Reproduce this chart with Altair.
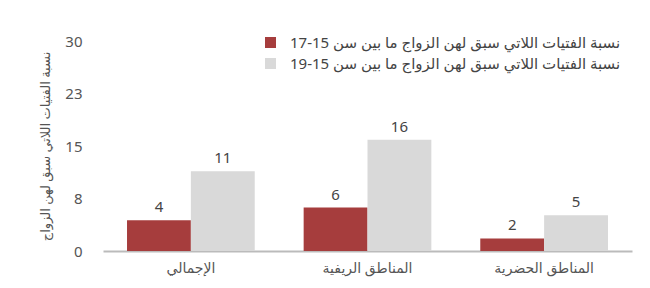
import altair as alt
import pandas as pd

categories = ["الإجمالي", "المناطق الريفية", "المناطق الحضرية"]
series = [
    "نسبة الفتيات اللاتي سبق لهن الزواج ما بين سن 15-17",
    "نسبة الفتيات اللاتي سبق لهن الزواج ما بين سن 15-19",
]
values_15_17 = [4.4, 6.2, 1.8]
values_15_19 = [11.4, 15.9, 5.1]
y_ticks = [0, 7.5, 15, 22.5, 30]
y_title = "نسبة الفتيات اللاتي سبق لهن الزواج"
colors = ["#A63D3D", "#D9D9D9"]

rows = []
for c, a, b in zip(categories, values_15_17, values_15_19):
    rows.append({"cat": c, "series": series[0], "value": a})
    rows.append({"cat": c, "series": series[1], "value": b})
df = pd.DataFrame(rows)

FONT = "Noto Sans, DejaVu Sans, sans-serif"

x = alt.X(
    "cat:N",
    sort=categories,
    title=None,
    scale=alt.Scale(paddingInner=0.277, paddingOuter=0.136),
    axis=alt.Axis(
        labelAngle=0,
        ticks=False,
        domainColor="#BBBBBB",
        domainWidth=2,
        labelFontSize=14,
        labelColor="#555555",
        labelPadding=10,
        labelFont=FONT,
    ),
)
y = alt.Y(
    "value:Q",
    scale=alt.Scale(domain=[0, 30], nice=False),
    title=y_title,
    axis=alt.Axis(
        values=y_ticks,
        format=".0f",
        grid=False,
        domain=False,
        ticks=False,
        tickSize=0,
        labelPadding=21,
        labelFontSize=15,
        labelColor="#555555",
        labelFont=FONT,
        titleFontSize=13,
        titleFontWeight="normal",
        titleColor="#555555",
        titlePadding=12,
        titleFont=FONT,
    ),
)

base = alt.Chart(df).encode(
    x=x,
    xOffset=alt.XOffset("series:N", sort=series),
)

bars = base.mark_bar().encode(
    y=y,
    color=alt.Color(
        "series:N",
        sort=series,
        scale=alt.Scale(domain=series, range=colors),
        legend=alt.Legend(
            title=None,
            orient="none",
            legendX=160,
            legendY=-6,
            symbolType="square",
            symbolSize=121,
            symbolStrokeWidth=0,
            labelFontSize=15,
            labelColor="#444444",
            labelFont=FONT,
            rowPadding=5,
            labelOffset=12,
            labelLimit=400,
        ),
    ),
)

labels = base.mark_text(
    baseline="bottom", dy=-5, fontSize=15, color="#444444", font=FONT
).encode(
    y=alt.Y("value:Q"),
    text=alt.Text("value:Q", format=".0f"),
)

chart = (
    alt.layer(bars, labels)
    .properties(
        width=529,
        height=210,
        autosize=alt.AutoSizeParams(type="none"),
        padding={"left": 103, "top": 41, "right": 18, "bottom": 37},
    )
    .configure(font=FONT)
    .configure_view(stroke=None)
)

chart.save("out.html", embed_options={"renderer": "svg", "actions": False})
